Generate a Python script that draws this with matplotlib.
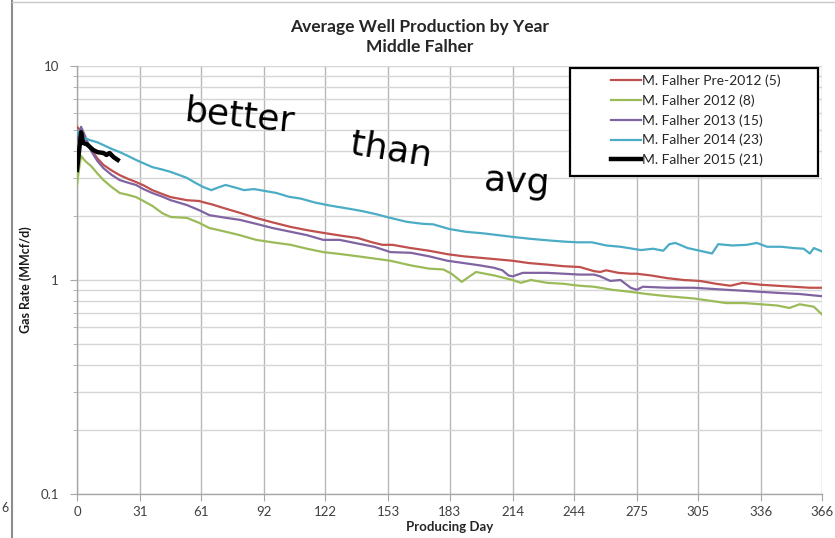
import matplotlib
matplotlib.use("Agg")
import matplotlib.pyplot as plt
from matplotlib.patches import Rectangle
from matplotlib.lines import Line2D
import numpy as np

# ---- data -------------------------------------------------------------
x_ticks = [0, 31, 61, 92, 122, 153, 183, 214, 244, 275, 305, 336, 366]
y_ticks = [0.1, 1, 10]
y_tick_labels = ["0.1", "1", "10"]

pre2012_days = [0, 3, 6, 10, 13, 17, 21, 25, 29, 33, 37, 42, 46, 50, 54, 60, 62, 66,
                72, 80, 88, 96, 105, 113, 121, 130, 138, 145, 150, 155, 164, 173, 182,
                190, 198, 206, 214, 222, 231, 239, 247, 254, 257, 260, 266, 272, 275,
                282, 290, 298, 306, 314, 321, 327, 336, 344, 352, 360, 366]
pre2012_rate = [5.2, 4.8, 4.2, 3.7, 3.45, 3.25, 3.09, 2.97, 2.87, 2.76, 2.63, 2.52, 2.44,
                2.40, 2.36, 2.34, 2.31, 2.26, 2.17, 2.06, 1.95, 1.86, 1.77, 1.71, 1.66,
                1.61, 1.57, 1.50, 1.46, 1.46, 1.41, 1.37, 1.32, 1.29, 1.27, 1.25, 1.23,
                1.20, 1.18, 1.16, 1.15, 1.10, 1.09, 1.11, 1.08, 1.07, 1.07, 1.05, 1.02,
                1.00, 0.99, 0.96, 0.94, 0.97, 0.95, 0.94, 0.93, 0.92, 0.92]

y2012_days = [0, 1, 2, 4, 7, 10, 13, 17, 21, 25, 29, 33, 37, 42, 46, 50, 54, 60, 65, 72,
              80, 88, 96, 105, 113, 121, 130, 138, 146, 154, 164, 173, 180, 184, 189,
              196, 205, 214, 218, 223, 231, 239, 247, 254, 263, 272, 280, 290, 303,
              311, 319, 328, 336, 344, 350, 355, 362, 366]
y2012_rate = [2.78, 3.3, 3.8, 3.6, 3.4, 3.15, 2.93, 2.72, 2.55, 2.50, 2.44, 2.33, 2.22,
              2.05, 1.97, 1.96, 1.95, 1.85, 1.75, 1.69, 1.62, 1.54, 1.50, 1.46, 1.40,
              1.35, 1.32, 1.29, 1.26, 1.23, 1.17, 1.13, 1.12, 1.07, 0.98, 1.09, 1.05,
              1.00, 0.97, 1.00, 0.97, 0.96, 0.94, 0.93, 0.90, 0.88, 0.86, 0.84, 0.82,
              0.80, 0.78, 0.78, 0.77, 0.76, 0.74, 0.77, 0.75, 0.69]

y2013_days = [0, 2, 4, 7, 10, 13, 17, 21, 25, 29, 33, 37, 42, 46, 50, 54, 60, 65, 72, 80,
              88, 96, 105, 113, 121, 129, 138, 146, 154, 164, 173, 182, 190, 198, 205,
              209, 212, 214, 219, 225, 231, 239, 247, 254, 257, 262, 267, 272, 275,
              278, 290, 303, 311, 319, 328, 336, 345, 355, 366]
y2013_rate = [4.5, 5.2, 4.7, 4.0, 3.6, 3.33, 3.1, 2.93, 2.85, 2.78, 2.65, 2.55, 2.45,
              2.36, 2.30, 2.24, 2.12, 2.01, 1.96, 1.91, 1.83, 1.75, 1.68, 1.62, 1.54,
              1.54, 1.48, 1.43, 1.35, 1.34, 1.29, 1.23, 1.20, 1.17, 1.14, 1.11, 1.05,
              1.04, 1.08, 1.08, 1.08, 1.07, 1.06, 1.06, 1.04, 0.99, 1.00, 0.92, 0.90,
              0.93, 0.92, 0.92, 0.91, 0.90, 0.89, 0.88, 0.87, 0.86, 0.84]

y2014_days = [0, 2, 4, 6.5, 10, 13, 17, 21, 25, 29, 33, 37, 42, 46, 50, 54, 58, 62, 66,
              70, 73, 78, 82, 87, 91, 98, 104, 110, 117, 124, 134, 140, 147, 154, 162,
              170, 175, 183, 191, 200, 207, 214, 222, 232, 240, 246, 253, 260, 267,
              277, 283, 288, 291, 294, 300, 306, 312, 315, 322, 329, 334, 339, 346,
              352, 357, 360, 362, 366]
y2014_rate = [5.0, 4.4, 4.6, 4.5, 4.4, 4.27, 4.1, 3.96, 3.8, 3.64, 3.5, 3.37, 3.28, 3.2,
              3.1, 3.0, 2.85, 2.72, 2.63, 2.72, 2.78, 2.70, 2.63, 2.66, 2.62, 2.55, 2.45,
              2.40, 2.30, 2.23, 2.15, 2.10, 2.03, 1.95, 1.87, 1.83, 1.82, 1.73, 1.68,
              1.65, 1.62, 1.59, 1.56, 1.53, 1.51, 1.50, 1.50, 1.45, 1.43, 1.38, 1.40,
              1.37, 1.47, 1.49, 1.41, 1.37, 1.33, 1.47, 1.45, 1.46, 1.49, 1.43, 1.43,
              1.41, 1.40, 1.33, 1.41, 1.36]

y2015_days = [0, 1, 2, 3, 5, 6.5, 8, 10, 13, 14.5, 16, 18, 20]
y2015_rate = [3.27, 4.0, 4.9, 4.37, 4.3, 4.17, 4.05, 3.96, 3.92, 3.84, 3.92, 3.75, 3.64]

series_labels = ["M. Falher Pre-2012 (5)", "M. Falher 2012 (8)", "M. Falher 2013 (15)",
                 "M. Falher 2014 (23)", "M. Falher 2015 (21)"]
series_colors = ["#C0504D", "#9BBB59", "#8064A2", "#4BACC6", "#000000"]
series_widths = [1.6, 1.6, 1.6, 1.6, 3.2]

# ---- figure -----------------------------------------------------------
FONT = "Lato"
fig = plt.figure(figsize=(8.35, 5.38), dpi=100)
ax = fig.add_axes([77 / 835, 1 - 494 / 538, 745 / 835, 428 / 538])

series = [(pre2012_days, pre2012_rate), (y2012_days, y2012_rate),
          (y2013_days, y2013_rate), (y2014_days, y2014_rate),
          (y2015_days, y2015_rate)]
for (d, r), c, w in zip(series, series_colors, series_widths):
    ax.plot(d, r, color=c, lw=w, solid_joinstyle="round", zorder=3)

ax.set_yscale("log")
ax.set_xlim(0, 366)
ax.set_ylim(0.1, 10)
ax.set_xticks(x_ticks)
ax.set_xticklabels([str(t) for t in x_ticks])
ax.set_yticks(y_ticks)
ax.set_yticklabels(y_tick_labels)
ax.yaxis.set_minor_locator(matplotlib.ticker.LogLocator(base=10, subs=np.arange(2, 10)))
ax.yaxis.set_minor_formatter(matplotlib.ticker.NullFormatter())

ax.grid(True, axis="x", which="major", color="#b8b8b8", lw=1.0, zorder=0)
ax.grid(True, axis="y", which="both", color="#d6d6d6", lw=1.0, zorder=0)
ax.set_axisbelow(True)

for s in ["top", "right"]:
    ax.spines[s].set_visible(False)
for s in ["left", "bottom"]:
    ax.spines[s].set_color("#a6a6a6")
    ax.spines[s].set_linewidth(1.0)

ax.tick_params(axis="both", which="both", color="#a6a6a6", direction="out",
               labelcolor="#404040", labelsize=9.5)
ax.tick_params(axis="y", which="major", length=5, pad=8)
ax.tick_params(axis="y", which="minor", length=3)
ax.tick_params(axis="x", length=5, pad=4)
for lab in ax.get_xticklabels() + ax.get_yticklabels():
    lab.set_fontfamily(FONT)

ax.set_xlabel("Producing Day", fontfamily=FONT, fontweight="bold", fontsize=9.5,
              color="#262626", labelpad=2)
ax.set_ylabel("Gas Rate (MMcf/d)", fontfamily=FONT, fontweight="bold", fontsize=9,
              color="#1a1a1a", labelpad=6)

fig.text(420 / 835, 1 - 27 / 538, "Average Well Production by Year",
         ha="center", va="center", fontfamily=FONT, fontweight="bold", fontsize=12.5,
         color="#262626")
fig.text(420 / 835, 1 - 47 / 538, "Middle Falher",
         ha="center", va="center", fontfamily=FONT, fontweight="bold", fontsize=12.5,
         color="#262626")

# legend box
box = Rectangle((570 / 835, 1 - 176 / 538), 248 / 835, 108 / 538,
                transform=fig.transFigure, facecolor="white", edgecolor="black",
                lw=1.6, zorder=5)
fig.patches.append(box)
handles = [Line2D([], [], color=c, lw=w) for c, w in zip(series_colors, series_widths)]
leg = fig.legend(handles, series_labels, loc="upper left",
                 bbox_to_anchor=(605 / 835, 1 - 69 / 538), frameon=False,
                 prop={"family": FONT, "size": 10}, handlelength=2.2,
                 handletextpad=0.1, labelspacing=0.52, borderaxespad=0)
leg.set_zorder(6)
for t in leg.get_texts():
    t.set_color("#262626")

# hand-written note
note_kw = dict(fontfamily="DejaVu Sans", fontsize=26, color="black", zorder=7)
fig.text(183 / 835, 1 - 116 / 538, "better", va="center", rotation=-6, **note_kw)
fig.text(348 / 835, 1 - 150 / 538, "than", va="center", rotation=-9, **note_kw)
fig.text(483 / 835, 1 - 182 / 538, "avg", va="center", rotation=-4, **note_kw)

# frame edges of the surrounding sheet
fig.add_artist(Line2D([12 / 835, 12 / 835], [0, 1], transform=fig.transFigure,
                      color="#8c8c8c", lw=1.5))
fig.add_artist(Line2D([12 / 835, 1], [1 - 2 / 538, 1 - 2 / 538],
                      transform=fig.transFigure, color="#c8c8c8", lw=1.0))
fig.text(1 / 835, 1 - 508 / 538, "6", va="center", ha="left", fontfamily=FONT,
         fontsize=9, color="#404040")

fig.savefig("out.png", dpi=100)
